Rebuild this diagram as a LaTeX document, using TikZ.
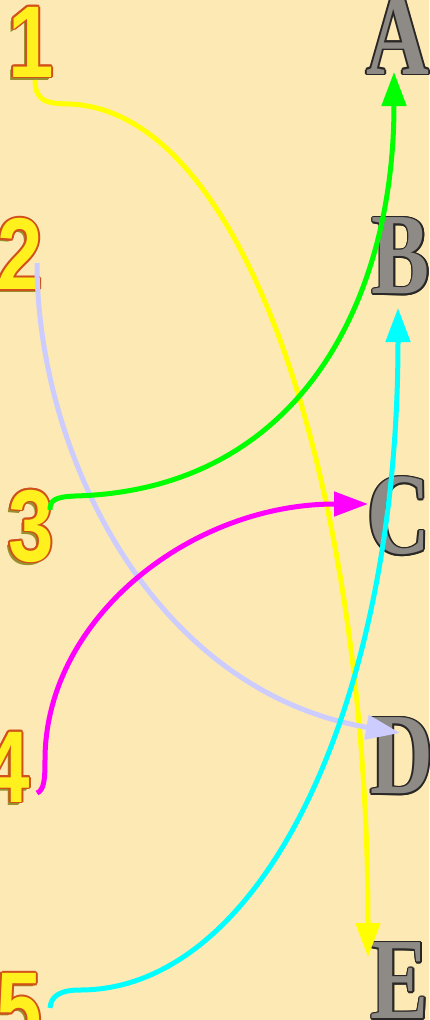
\documentclass[tikz,border=0pt]{standalone}
\usepackage{fontspec}
\newfontfamily\digitfont{Liberation Sans}
\newfontfamily\letterfont{Liberation Serif}
\usetikzlibrary{arrows.meta,calc}
\definecolor{paper}{HTML}{FDE9B4}
\definecolor{numfill}{HTML}{FFF01E}
\definecolor{numedge}{HTML}{D2501A}
\definecolor{numside}{HTML}{98902E}
\definecolor{letfill}{HTML}{8E8A86}
\definecolor{letedge}{HTML}{2A2826}
\definecolor{lilac}{HTML}{CCCCFF}
\definecolor{lineyellow}{HTML}{FFFF00}
\definecolor{linegreen}{HTML}{00FF00}
\definecolor{linepink}{HTML}{FF00FF}
\definecolor{linecyan}{HTML}{00FFFF}
\newcommand{\squeezenum}[1]{\scalebox{0.8}[1]{#1}}
\newcommand{\squeezelet}[1]{\scalebox{0.75}[1]{#1}}
\tikzset{
  numeral/.style={inner sep=0pt, text=numfill,
    font=\digitfont\bfseries\fontsize{102}{102}\selectfont},
  numrim/.style={numeral, text=numedge},
  numshade/.style={numeral, text=numside},
  letter/.style={inner sep=0pt, text=letfill,
    font=\letterfont\bfseries\fontsize{116}{116}\selectfont},
  letrim/.style={letter, text=letedge},
  link/.style={line width=5pt, draw=#1,
    -{Triangle[length=34pt, width=24pt]}},
}

\begin{document}
\begin{tikzpicture}[x=1pt, y=-1pt]
  \fill[paper, use as bounding box] (0,0) rectangle (429,1020);
  % numbers on the left
  \foreach \nm/\x/\y/\dg in {n1/31/42/1, n2/20/254/2, n3/31/526/3, n4/7/767/4, n5/19/1009/5} {
    \foreach \s in {1,2,3}
      \node[numshade] at (\x-\s,\y+\s) {\squeezenum{\dg}};
    \foreach \a in {0,30,...,330}
      \node[numrim] at ($(\x,\y)+(\a:1.8)$) {\squeezenum{\dg}};
    \node[numeral] (\nm) at (\x,\y) {\squeezenum{\dg}};
  }
  % letters on the right
  \foreach \nm/\x/\y in {A/398/36, B/401/256, C/399/516, D/402/756, E/400/981} {
    \foreach \a in {0,30,...,330}
      \node[letrim] at ($(\x,\y)+(\a:1.6)$) {\squeezelet{\nm}};
    \node[letter] (\nm) at (\x,\y) {\squeezelet{\nm}};
  }
  % line ends
  \coordinate (o1) at (35,80);
  \coordinate (o2) at (37,263);
  \coordinate (o3) at (50,510);
  \coordinate (o4) at (37,793);
  \coordinate (o5) at (50,1008);
  \coordinate (iA) at (394,72);
  \coordinate (iB) at (398,308);
  \coordinate (iC) at (368,504);
  \coordinate (iD) at (400,733);
  \coordinate (iE) at (368,957);
  % matching lines
  \draw[link=lineyellow] (o1) .. controls (35,100) and (45,104) .. (70,104)
    .. controls (250,112) and (368,500) .. (iE);
  \draw[link=lilac] (o2) .. controls (37,450) and (150,690) .. (iD);
  \draw[link=linegreen] (o3) .. controls (50,500) and (55,497) .. (75,496)
    .. controls (300,490) and (394,300) .. (iA);
  \draw[link=linepink] (o4) .. controls (44,790) and (45,780) .. (45,760)
    .. controls (45,619) and (190,504) .. (iC);
  \draw[link=linecyan] (o5) .. controls (51,996) and (60,990) .. (80,990)
    .. controls (260,990) and (398,708) .. (iB);
\end{tikzpicture}
\end{document}
